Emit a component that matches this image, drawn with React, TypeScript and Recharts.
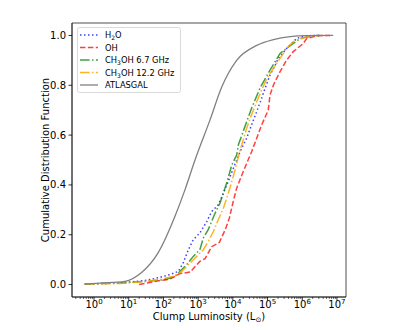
import React from "react";
import { LineChart, Line, XAxis, YAxis, ReferenceArea, Label } from "recharts";

// log10(L) and CDF values
const h2oLogL = [-0.26, 0.75, 1.52, 1.9, 2.19, 2.43, 2.57, 2.72, 2.86, 3.05, 3.25, 3.39, 3.58, 3.73, 3.92, 4.11, 4.21, 4.4, 4.54, 4.69, 4.83, 4.93, 5.07, 5.22, 5.31, 5.55, 5.84, 6.08, 6.57];
const h2oCdf = [0.002, 0.006, 0.017, 0.029, 0.04, 0.053, 0.087, 0.14, 0.18, 0.207, 0.253, 0.293, 0.32, 0.367, 0.433, 0.5, 0.534, 0.588, 0.641, 0.695, 0.748, 0.788, 0.841, 0.881, 0.908, 0.948, 0.988, 0.999, 1.0];

const ohLogL = [1.3, 1.9, 2.19, 2.48, 2.77, 3.05, 3.2, 3.39, 3.61, 3.78, 3.9, 4.01, 4.11, 4.26, 4.4, 4.54, 4.69, 4.83, 5.02, 5.07, 5.17, 5.36, 5.55, 5.74, 6.03, 6.13, 6.42, 6.8];
const ohCdf = [0.0, 0.016, 0.022, 0.044, 0.05, 0.093, 0.104, 0.152, 0.169, 0.22, 0.267, 0.333, 0.387, 0.44, 0.487, 0.533, 0.588, 0.641, 0.7, 0.761, 0.801, 0.855, 0.901, 0.935, 0.968, 0.988, 0.999, 1.0];

const m67LogL = [-0.26, 0.75, 1.61, 2.05, 2.33, 2.48, 2.67, 2.86, 3.05, 3.15, 3.29, 3.49, 3.63, 3.82, 3.97, 4.11, 4.16, 4.35, 4.54, 4.78, 5.07, 5.22, 5.36, 5.55, 5.94, 6.32, 6.51];
const m67Cdf = [0.002, 0.006, 0.014, 0.02, 0.032, 0.053, 0.08, 0.113, 0.14, 0.187, 0.22, 0.287, 0.327, 0.407, 0.48, 0.52, 0.561, 0.635, 0.708, 0.788, 0.861, 0.895, 0.928, 0.948, 0.988, 0.999, 1.0];

const m122LogL = [-0.26, 0.75, 1.52, 1.9, 2.29, 2.53, 2.77, 2.96, 3.15, 3.29, 3.44, 3.58, 3.73, 3.87, 4.01, 4.1, 4.21, 4.4, 4.5, 4.69, 4.83, 4.98, 5.17, 5.36, 5.55, 5.74, 6.13, 6.46];
const m122Cdf = [0.002, 0.004, 0.013, 0.02, 0.033, 0.053, 0.087, 0.113, 0.14, 0.173, 0.213, 0.26, 0.307, 0.367, 0.433, 0.48, 0.54, 0.628, 0.668, 0.735, 0.781, 0.828, 0.868, 0.908, 0.948, 0.975, 0.995, 1.0];

const atlasLogL = [-0.29, 0.17, 0.89, 1.37, 1.85, 2.33, 2.62, 2.91, 3.34, 3.68, 4.11, 4.69, 5.17, 5.65, 6.13, 6.89];
const atlasCdf = [0.002, 0.006, 0.013, 0.048, 0.128, 0.273, 0.38, 0.5, 0.66, 0.793, 0.9, 0.96, 0.983, 0.995, 0.999, 1.0];

const yTicks = [0, 0.2, 0.4, 0.6, 0.8, 1.0];
const xExponents = [0, 1, 2, 3, 4, 5, 6, 7];

const X_MIN = Math.pow(10, -0.634);
const X_MAX = Math.pow(10, 7.26);

const toData = (logs: number[], cdf: number[]) =>
  logs.map((l, i) => ({ x: Math.pow(10, l), y: cdf[i] }));

const majorTicks = xExponents.map((e) => Math.pow(10, e));
const minorTicks: number[] = [];
for (let e = -1; e <= 7; e++) {
  for (let m = 2; m <= 9; m++) {
    const v = m * Math.pow(10, e);
    if (v >= X_MIN && v <= X_MAX) minorTicks.push(v);
  }
}
const allXTicks = [...majorTicks, ...minorTicks].sort((a, b) => a - b);

const FONT = "DejaVu Sans, sans-serif";

const series = [
  { name: "h2o", data: toData(h2oLogL, h2oCdf), color: "#0000ff", dash: "1.5 2.5", width: 1.5, opacity: 0.75, curve: "linear" },
  { name: "oh", data: toData(ohLogL, ohCdf), color: "#ff0000", dash: "5.5 2.4", width: 1.5, opacity: 0.75, curve: "linear" },
  { name: "m67", data: toData(m67LogL, m67Cdf), color: "#008000", dash: "9.6 2.4 1.5 2.4", width: 1.5, opacity: 0.75, curve: "linear" },
  { name: "m122", data: toData(m122LogL, m122Cdf), color: "#ffa500", dash: "9.6 2.4 1.5 2.4", width: 1.5, opacity: 0.85, curve: "linear" },
  { name: "atlas", data: toData(atlasLogL, atlasCdf), color: "#808080", dash: undefined, width: 1.3, opacity: 1, curve: "monotone" },
];

const XTick = (props: any) => {
  const { x, y, payload } = props;
  const v = payload.value;
  const lg = Math.log10(v);
  const e = Math.round(lg);
  const major = Math.abs(lg - e) < 1e-6;
  return (
    <g>
      <line x1={x} x2={x} y1={y} y2={y + (major ? 3.5 : 2)} stroke="#000" strokeWidth={major ? 0.8 : 0.6} />
      {major && (
        <text x={x} y={y + 11} textAnchor="middle" fontSize={10} fontFamily={FONT} fill="#000">
          <tspan>10</tspan>
          <tspan dy={-4.5} fontSize={7}>{e}</tspan>
        </text>
      )}
    </g>
  );
};

const YTick = (props: any) => {
  const { x, y, payload } = props;
  return (
    <g>
      <line x1={x} x2={x - 3.5} y1={y} y2={y} stroke="#000" strokeWidth={0.8} />
      <text x={x - 6} y={y} textAnchor="end" dominantBaseline="central" fontSize={10} fontFamily={FONT} fill="#000">
        {Number(payload.value).toFixed(1)}
      </text>
    </g>
  );
};

const legendRows = [
  { key: "h2o", parts: [["H", 0], ["2", 1], ["O", 0]] },
  { key: "oh", parts: [["OH", 0]] },
  { key: "m67", parts: [["CH", 0], ["3", 1], ["OH 6.7 GHz", 0]] },
  { key: "m122", parts: [["CH", 0], ["3", 1], ["OH 12.2 GHz", 0]] },
  { key: "atlas", parts: [["ATLASGAL", 0]] },
];

const LegendBox = () => (
  <svg width={105} height={67} style={{ display: "block" }}>
    <rect x={0.5} y={0.5} width={103} height={65} rx={2} fill="#fff" fillOpacity={0.8} stroke="#d0d0d0" strokeWidth={0.8} />
    {legendRows.map((row, i) => {
      const s = series.find((q) => q.name === row.key)!;
      const cy = 8 + i * 12.5;
      return (
        <g key={row.key}>
          <line x1={3} x2={21} y1={cy} y2={cy} stroke={s.color} strokeOpacity={s.opacity} strokeWidth={s.width} strokeDasharray={s.dash} />
          <text x={28} y={cy + 3} fontSize={8.3} fontFamily={FONT} fill="#000">
            {row.parts.map((p, j) => {
              const prevSub = j > 0 && row.parts[j - 1][1] === 1;
              const isSub = p[1] === 1;
              return (
                <tspan key={j} fontSize={isSub ? 6 : 8.3} dy={isSub ? 2 : prevSub ? -2 : 0}>
                  {p[0] as string}
                </tspan>
              );
            })}
          </text>
        </g>
      );
    })}
  </svg>
);

const YLabel = (props: any) => {
  const vb = props.viewBox || { x: 0, y: 23, width: 72, height: 274 };
  const cx = vb.x + 45;
  const cy = vb.y + vb.height / 2;
  return (
    <text x={cx} y={cy} transform={`rotate(-90, ${cx}, ${cy})`} textAnchor="middle" dominantBaseline="central" fontSize={10} fontFamily={FONT} fill="#000">
      Cumulative Distribution Function
    </text>
  );
};

const XLabel = (props: any) => {
  const vb = props.viewBox || { x: 72, y: 297, width: 274, height: 33 };
  const cx = vb.x + vb.width / 2;
  return (
    <text x={cx} y={vb.y + 23} textAnchor="middle" fontSize={10} fontFamily={FONT} fill="#000">
      <tspan>Clump Luminosity (L</tspan>
      <tspan fontSize={7} dy={2}>⊙</tspan>
      <tspan dy={-2}>)</tspan>
    </text>
  );
};

export default function App() {
  return (
    <div style={{ position: "absolute", left: 0, top: 0, width: 407, height: 330, background: "#fff" }}>
      <LineChart width={407} height={330} margin={{ top: 23, right: 61, bottom: 0, left: 0 }}>
        <XAxis
          dataKey="x"
          type="number"
          scale="log"
          domain={[X_MIN, X_MAX]}
          allowDataOverflow
          ticks={allXTicks}
          interval={0}
          tickSize={0}
          tickMargin={0}
          tickLine={false}
          tick={<XTick />}
          height={33}
          axisLine={{ stroke: "#222", strokeWidth: 0.8 }}
        >
          <Label content={<XLabel />} />
        </XAxis>
        <YAxis
          type="number"
          domain={[-0.05, 1.05]}
          ticks={yTicks}
          interval={0}
          width={72}
          tickSize={0}
          tickMargin={0}
          tickLine={false}
          tick={<YTick />}
          axisLine={{ stroke: "#222", strokeWidth: 0.8 }}
          allowDataOverflow
        >
          <Label content={<YLabel />} />
        </YAxis>
        <ReferenceArea x1={X_MIN} x2={X_MAX} y1={-0.05} y2={1.05} fill="none" stroke="#222" strokeWidth={0.8} ifOverflow="visible" />
        {series.map((s) => (
          <Line
            key={s.name}
            data={s.data}
            dataKey="y"
            type={s.curve as any}
            dot={false}
            activeDot={false}
            stroke={s.color}
            strokeOpacity={s.opacity}
            strokeWidth={s.width}
            strokeDasharray={s.dash}
            isAnimationActive={false}
          />
        ))}
      </LineChart>
      <div style={{ position: "absolute", left: 77, top: 27 }}>
        <LegendBox />
      </div>
    </div>
  );
}
